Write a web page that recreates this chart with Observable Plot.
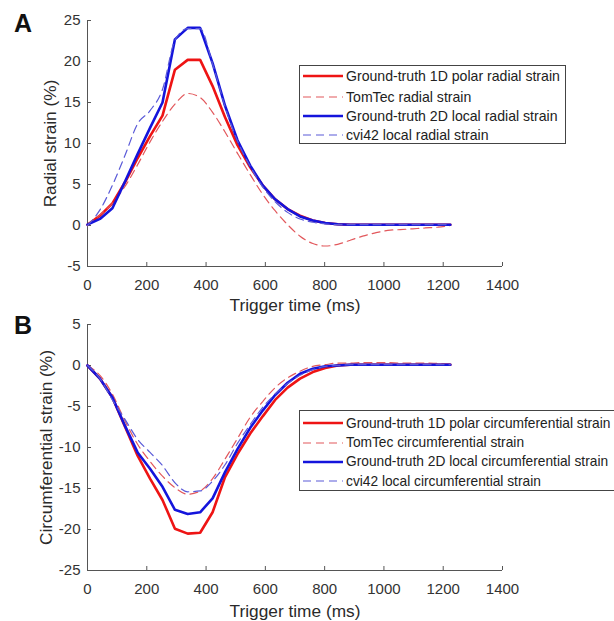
<!DOCTYPE html>
<html><head><meta charset="utf-8">
<script src="https://cdn.jsdelivr.net/npm/d3@7"></script>
<script src="https://cdn.jsdelivr.net/npm/@observablehq/plot@0.6"></script>
<style>
body{margin:0;background:#fff;}
#fig{position:relative;width:614px;height:621px;overflow:hidden;background:#fff;font-family:"Liberation Sans",Arial,sans-serif;}
.panel{position:absolute;left:0;}
.tag{position:absolute;left:14px;font-size:25px;font-weight:bold;line-height:25px;color:#111;}
.legend{position:absolute;left:299px;background:#fff;border:1px solid #444;box-sizing:border-box;}
.row{position:absolute;left:3px;height:20px;white-space:nowrap;font-size:14.1px;color:#222;display:flex;align-items:center;}
.legB .row{font-size:13.75px;}
.row svg{margin-right:3px;flex:none;}
</style></head>
<body>
<div id="fig"></div>
<script>
// ---- data ----
const time = [0,42,84,127,169,211,253,295,338,380,422,464,506,549,591,633,675,717,760,802,844,886,928,971,1013,1055,1097,1139,1182,1224];

const radial1D     = [0.1,1.2,2.7,5.3,8.2,10.9,13.4,19.0,20.2,20.2,17.0,13.2,9.8,7.1,4.9,3.2,2.0,1.2,0.6,0.3,0.15,0.1,0.1,0.1,0.1,0.1,0.1,0.1,0.1,0.1];
const radialTomTec = [0,1.3,2.7,4.8,7.4,10.2,12.7,14.8,16.1,15.6,13.8,11.4,8.8,6.2,3.8,1.8,0.1,-1.3,-2.2,-2.5,-2.3,-1.8,-1.3,-0.9,-0.6,-0.5,-0.4,-0.3,-0.2,0.0];
const radial2D     = [0.1,0.8,2.1,5.4,8.7,11.9,15.0,22.7,24.1,24.1,19.8,14.6,10.4,7.3,4.9,3.2,2.0,1.1,0.6,0.3,0.15,0.1,0.1,0.1,0.1,0.1,0.1,0.1,0.1,0.1];
const radialCvi42  = [0,1.9,4.9,8.6,12.4,14.0,16.6,22.6,24.0,24.0,19.7,14.5,10.3,7.2,4.7,2.9,1.6,0.8,0.4,0.2,0.1,0.1,0.1,0.1,0.1,0.1,0.1,0.1,0.1,0.1];

const circ1D     = [0,-1.6,-3.9,-7.5,-11.0,-13.8,-16.4,-19.9,-20.5,-20.4,-17.9,-13.6,-10.8,-8.3,-6.2,-4.2,-2.7,-1.6,-0.8,-0.3,0.0,0.1,0.1,0.1,0.1,0.1,0.1,0.1,0.1,0.1];
const circTomTec = [0,-1.2,-3.5,-6.8,-9.6,-11.7,-13.5,-14.9,-15.7,-15.3,-13.8,-11.4,-8.9,-6.3,-4.4,-2.7,-1.5,-0.7,-0.1,0.1,0.3,0.3,0.35,0.35,0.35,0.3,0.3,0.3,0.25,0.2];
const circ2D     = [0,-1.6,-3.9,-7.4,-10.6,-12.6,-14.8,-17.6,-18.1,-17.9,-16.2,-13.0,-10.2,-7.6,-5.5,-3.6,-2.1,-1.0,-0.4,-0.1,0.0,0.1,0.1,0.1,0.1,0.1,0.1,0.1,0.1,0.1];
const circCvi42  = [0,-1.6,-4.2,-6.6,-9.0,-10.6,-12.2,-14.3,-15.4,-15.3,-14.1,-12.1,-9.5,-7.2,-5.1,-3.5,-2.2,-1.2,-0.5,-0.1,0.0,0.1,0.1,0.1,0.1,0.1,0.1,0.1,0.1,0.1];

const xTicks = [0,200,400,600,800,1000,1200,1400];
const yTicksA = [-5,0,5,10,15,20,25];
const yTicksB = [-25,-20,-15,-10,-5,0,5];

const labelsA = ["Ground-truth 1D polar radial strain","TomTec radial strain","Ground-truth 2D local radial strain","cvi42 local radial strain"];
const labelsB = ["Ground-truth 1D polar circumferential strain","TomTec circumferential strain","Ground-truth 2D local circumferential strain","cvi42 local circumferential strain"];
const xTitle = "Trigger time (ms)";
const yTitleA = "Radial strain (%)";
const yTitleB = "Circumferential strain (%)";

// ---- styles ----
const styles = [
  {stroke:"#ee1414", strokeWidth:2.6, dash:null},
  {stroke:"#e2585c", strokeWidth:1.2, dash:"8,5"},
  {stroke:"#1414dc", strokeWidth:2.6, dash:null},
  {stroke:"#5a5ad8", strokeWidth:1.2, dash:"8,5"}
];

const toRows = vals => time.map((t,i)=>({t, v: vals[i]}));
const fmt = d => String(d);

function panel(seriesList, yDomain, yTicks, yTitle, height, marginBottom, yTitleDx, xTitleDy) {
  const marks = [
    Plot.ruleX([0], {stroke:"#555", strokeWidth:1}),
    Plot.ruleY([yDomain[0]], {stroke:"#555", strokeWidth:1}),
    Plot.axisX(xTicks, {tickSize:-4, tickPadding:17, tickFormat:fmt, stroke:"#555", fill:"#333", fontSize:15, label:null}),
    Plot.axisY(yTicks, {tickSize:-4, tickPadding:11, tickFormat:fmt, stroke:"#555", fill:"#333", fontSize:15, label:null}),
    Plot.text([xTitle], {frameAnchor:"bottom", dy:xTitleDy, lineAnchor:"middle", textAnchor:"middle", fontSize:17.3, fill:"#2a2a2a"}),
    Plot.text([yTitle], {frameAnchor:"left", dx:yTitleDx, rotate:-90, lineAnchor:"middle", textAnchor:"middle", fontSize:17.3, fill:"#2a2a2a"})
  ];
  seriesList.forEach((vals, i) => {
    const s = styles[i];
    marks.push(Plot.line(toRows(vals), {x:"t", y:"v", stroke:s.stroke, strokeWidth:s.strokeWidth, strokeDasharray:s.dash, strokeLinejoin:"miter", curve: s.dash ? "monotone-x" : "linear"}));
  });
  return Plot.plot({
    width:614, height,
    marginTop:20, marginBottom, marginLeft:87, marginRight:112,
    style:{fontFamily:'"Liberation Sans", Arial, sans-serif', background:"transparent", overflow:"visible"},
    x:{domain:[0,1400]},
    y:{domain:yDomain},
    marks
  });
}

const fig = document.getElementById("fig");

const pA = panel([radial1D, radialTomTec, radial2D, radialCvi42], [-5,25], yTicksA, yTitleA, 320, 54, -37, 39);
pA.classList.add("panel"); pA.style.top = "0px";
fig.appendChild(pA);

const pB = panel([circ1D, circTomTec, circ2D, circCvi42], [-25,5], yTicksB, yTitleB, 317, 51, -41, 41);
pB.classList.add("panel"); pB.style.top = "304px";
fig.appendChild(pB);

function tag(txt, top) {
  const d = document.createElement("div");
  d.className = "tag"; d.textContent = txt; d.style.top = top + "px";
  fig.appendChild(d);
}
tag("A", 11); tag("B", 313);

function legend(labels, top, height, width, centers, cls) {
  const box = document.createElement("div");
  box.className = "legend " + cls;
  Object.assign(box.style, {top: top+"px", height: height+"px", width: width+"px"});
  labels.forEach((lab, i) => {
    const s = styles[i];
    const row = document.createElement("div");
    row.className = "row";
    row.style.top = (centers[i] - 10) + "px";
    const ns = "http://www.w3.org/2000/svg";
    const sv = document.createElementNS(ns, "svg");
    sv.setAttribute("width", 40); sv.setAttribute("height", 6);
    const ln = document.createElementNS(ns, "line");
    ln.setAttribute("x1", 0); ln.setAttribute("x2", 40); ln.setAttribute("y1", 3); ln.setAttribute("y2", 3);
    ln.setAttribute("stroke", s.stroke); ln.setAttribute("stroke-width", s.strokeWidth);
    if (s.dash) ln.setAttribute("stroke-dasharray", "8,5");
    sv.appendChild(ln);
    row.appendChild(sv);
    const sp = document.createElement("span");
    sp.textContent = lab;
    row.appendChild(sp);
    box.appendChild(row);
  });
  fig.appendChild(box);
}
legend(labelsA, 65, 79, 267, [10, 30.5, 49.5, 69], "legA");
legend(labelsB, 410, 81, 340, [12.3, 31.7, 50.7, 70], "legB");
</script>
</body></html>
